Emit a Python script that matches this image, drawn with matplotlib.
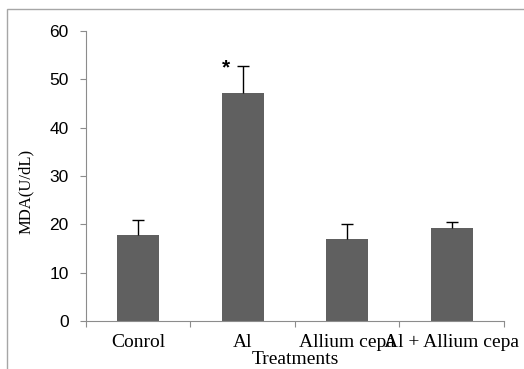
import matplotlib
matplotlib.use('Agg')
import matplotlib.pyplot as plt
from matplotlib.patches import Rectangle
import numpy as np

treatments = ['Conrol', 'Al', 'Allium cepa', 'Al + Allium cepa']
mda = [17.8, 47.2, 17.0, 19.2]
err_up = [3.1, 5.6, 3.1, 1.3]
y_ticks = [0, 10, 20, 30, 40, 50, 60]

axis_grey = '#8c8c8c'
serif = ['Liberation Serif', 'DejaVu Serif']
sans = ['Liberation Sans', 'DejaVu Sans']

fig = plt.figure(figsize=(5.24, 3.69), dpi=100)
ax = fig.add_axes([0.1641, 0.1301, 0.7977, 0.7859])

# outer chart frame (only top and left visible in the original)
fig.patches.append(Rectangle((7 / 524, -0.05), 1.2, 1 - 9 / 369 + 0.05,
                             transform=fig.transFigure, fill=False,
                             edgecolor='#a6a6a6', linewidth=1.0))

x = np.arange(len(treatments))
ax.bar(x, mda, width=0.4, color='#606060', zorder=2)
eb = ax.errorbar(x, mda, yerr=[np.zeros(len(err_up)), err_up], fmt='none',
                 ecolor='black', elinewidth=1.0, capsize=4, capthick=1.0, zorder=3)
# only the upper cap is drawn in the original
eb[1][0].set_visible(False)

# significance mark on Al
ax.text(x[1] - 0.16, mda[1] + err_up[1] - 0.5, '*', ha='center', va='center',
        fontsize=15, fontweight='bold', family=sans)

ax.set_xlim(-0.5, len(treatments) - 0.5)
ax.set_ylim(0, 60)
ax.set_yticks(y_ticks)
ax.set_yticklabels([str(v) for v in y_ticks], family=sans, fontsize=12.5)
ax.set_xticks(np.arange(-0.5, len(treatments), 1.0))
ax.set_xticklabels([])
ax.set_xticks(x, minor=True)
ax.set_xticklabels(treatments, minor=True, family=serif, fontsize=14)
ax.tick_params(axis='x', which='minor', length=0, pad=9.5)
ax.tick_params(axis='x', which='major', length=4, color=axis_grey, direction='out')
ax.tick_params(axis='y', length=4.5, color=axis_grey, direction='out', pad=8)

for side in ['top', 'right']:
    ax.spines[side].set_visible(False)
for side in ['left', 'bottom']:
    ax.spines[side].set_color(axis_grey)

ax.set_ylabel('MDA(U/dL)', family=serif, fontsize=12)
ax.yaxis.set_label_coords(-0.125, 0.448)
ax.set_xlabel('Treatments', family=serif, fontsize=14, labelpad=0)

fig.savefig('out.png', dpi=100)
